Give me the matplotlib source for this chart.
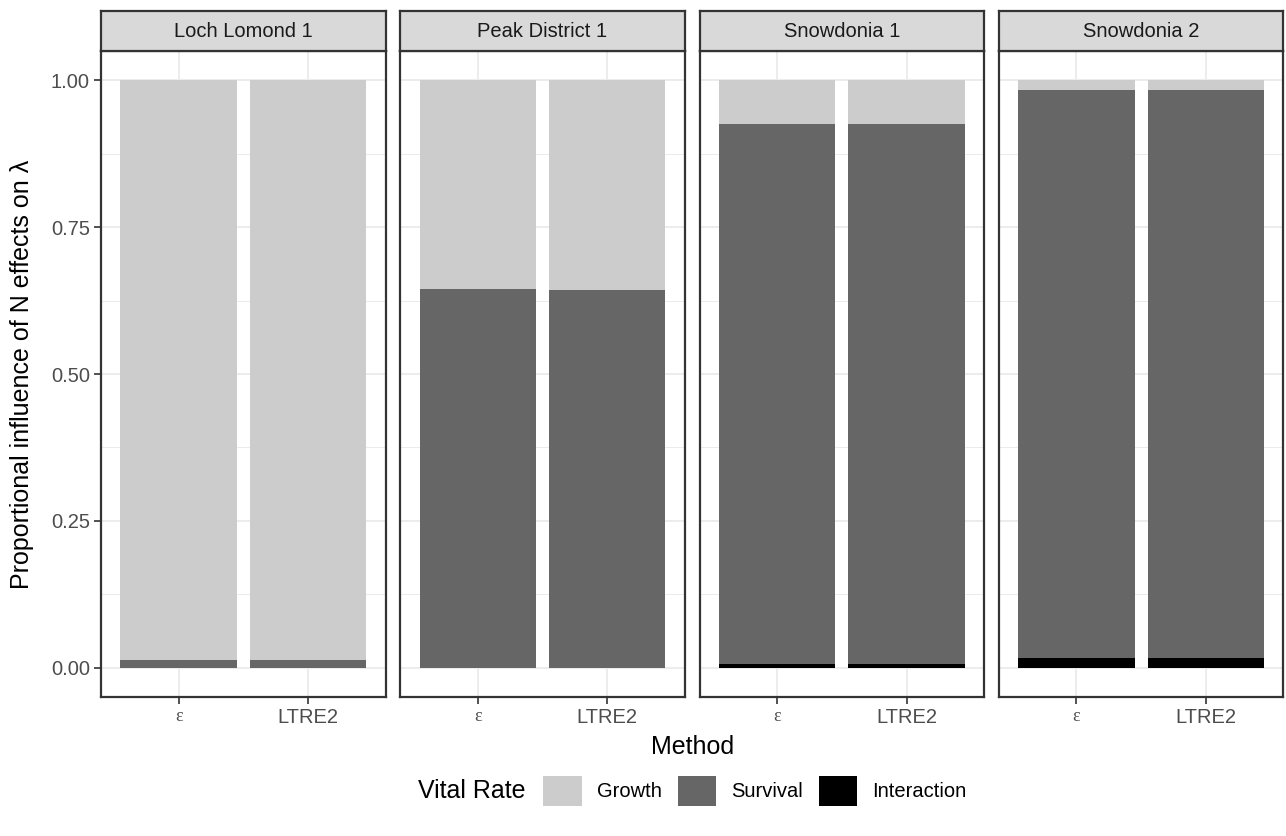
import matplotlib

matplotlib.use("Agg")

import matplotlib.pyplot as plt
from matplotlib.patches import Patch

plt.rcParams["font.family"] = ["Liberation Sans", "DejaVu Sans"]

sites = ["Loch Lomond 1", "Peak District 1", "Snowdonia 1", "Snowdonia 2"]
methods = ["\u03b5", "LTRE2"]
rates = ["Growth", "Survival", "Interaction"]

# proportion of each vital rate, per site, per method (eps, LTRE2)
interaction = [[0.0, 0.0], [0.0, 0.0], [0.007, 0.007], [0.017, 0.017]]
survival = [[0.013, 0.013], [0.645, 0.643], [0.918, 0.918], [0.966, 0.966]]
growth = [[0.987, 0.987], [0.355, 0.357], [0.075, 0.075], [0.017, 0.017]]

colors = {"Growth": "#CCCCCC", "Survival": "#666666", "Interaction": "#000000"}

W, H = 1286, 836
fig = plt.figure(figsize=(W / 100, H / 100), dpi=100)

left0, pw, step = 101, 284.5, 299.3
top, bottom, strip_top = 51, 697, 11
tick_fs = 14.5
title_fs = 18

for i, site in enumerate(sites):
    x0 = left0 + i * step
    ax = fig.add_axes([x0 / W, 1 - bottom / H, pw / W, (bottom - top) / H])
    xs = range(len(methods))
    base = [0.0] * len(methods)
    for rate, vals in (("Interaction", interaction), ("Survival", survival), ("Growth", growth)):
        ax.bar(xs, vals[i], width=0.9, bottom=base, color=colors[rate], linewidth=0, zorder=2)
        base = [b + v for b, v in zip(base, vals[i])]
    ax.set_xlim(-0.6, 1.6)
    ax.set_ylim(-0.05, 1.05)
    ax.set_xticks(list(xs))
    ax.set_xticklabels(methods)
    ax.set_yticks([0, 0.25, 0.5, 0.75, 1.0])
    ax.set_yticks([0.125, 0.375, 0.625, 0.875], minor=True)
    ax.grid(which="major", color="#EBEBEB", lw=1.3, zorder=0)
    ax.grid(which="minor", axis="y", color="#EBEBEB", lw=0.7, zorder=0)
    ax.set_axisbelow(True)
    ax.tick_params(which="minor", length=0)
    ax.tick_params(which="major", length=5, width=1.2, color="#333333",
                   labelcolor="#4D4D4D", labelsize=tick_fs, pad=3)
    for lab in ax.get_xticklabels():
        if lab.get_text() == "\u03b5":
            lab.set_fontfamily("Liberation Serif")
            lab.set_fontsize(13)
    if i == 0:
        ax.set_yticklabels(["0.00", "0.25", "0.50", "0.75", "1.00"])
    else:
        ax.tick_params(axis="y", length=0, labelleft=False)
    for sp in ax.spines.values():
        sp.set_color("#333333")
        sp.set_linewidth(1.6)

    sax = fig.add_axes([x0 / W, 1 - top / H, pw / W, (top - strip_top) / H])
    sax.set_facecolor("#D9D9D9")
    sax.set_xticks([])
    sax.set_yticks([])
    for sp in sax.spines.values():
        sp.set_color("#333333")
        sp.set_linewidth(1.6)
    sax.text(0.5, 0.48, site, ha="center", va="center", fontsize=tick_fs, color="#1A1A1A",
             transform=sax.transAxes)

fig.text((left0 + (3 * step + pw) / 2) / W, 1 - 747 / H, "Method", ha="center", va="center",
         fontsize=title_fs)
fig.text(22 / W, 1 - 374 / H, "Proportional influence of N effects on \u03bb", rotation=90,
         ha="center", va="center", fontsize=title_fs)

handles = [Patch(facecolor=colors[r], edgecolor="none") for r in rates]
fig.legend(handles, rates, loc="center", bbox_to_anchor=(755 / W, 1 - 791 / H), ncol=3,
           frameon=False, fontsize=tick_fs, handlelength=1.9, handleheight=1.9,
           handletextpad=0.75, columnspacing=0.8, borderpad=0, borderaxespad=0)
fig.text(526 / W, 1 - 791 / H, "Vital Rate", ha="right", va="center", fontsize=title_fs)

fig.savefig("out.png", dpi=100, facecolor="white")
